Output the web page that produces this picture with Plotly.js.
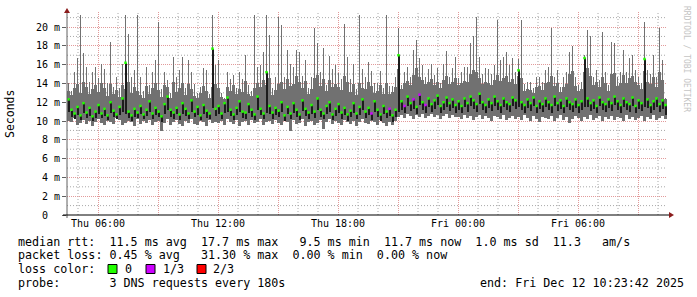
<!DOCTYPE html>
<html>
<head>
<meta charset="utf-8">
<script src="https://cdn.plot.ly/plotly-3.0.1.min.js"></script>
<style>html,body{margin:0;padding:0;background:#fff;}#chart{width:697px;height:297px;}</style>
</head>
<body>
<div id="chart"></div>
<script>
// ---- data (ms), one value per 9-minute step, starting Thu Dec 11 04:27 ----
const stepMinutes = 9;
const startUTC = Date.UTC(2025, 11, 11, 4, 27, 0);

// highest request in the step (smoke spikes)
const maxRtt = [
 14.0,13.2,15.2,16.7,21.3,17.2,15.8,14.2,15.2,15.8,
 14.6,16.1,15.5,14.0,18.4,13.6,14.7,13.5,16.1,21.3,
 19.3,14.7,15.4,21.3,14.7,13.2,15.8,13.8,15.2,16.5,
 20.5,13.4,15.2,14.4,13.0,16.8,14.7,15.4,16.8,13.5,
 16.5,15.2,13.9,13.0,13.6,15.6,15.4,12.9,21.3,16.0,
 16.5,13.0,12.5,15.2,14.5,14.9,13.5,15.2,14.5,17.0,
 13.8,13.2,21.3,15.8,16.0,17.3,21.3,19.2,13.5,14.7,
 21.1,20.2,14.7,17.6,16.1,15.8,17.6,17.3,14.8,16.5,
 13.5,14.7,19.9,18.3,15.2,17.8,13.8,16.9,15.5,16.0,
 15.1,14.5,20.3,16.8,14.5,16.1,13.4,21.3,15.5,14.7,
 16.3,15.3,14.0,14.0,15.3,13.5,21.3,13.7,13.7,14.7,
 19.9,13.8,15.2,15.8,14.7,17.6,18.6,16.7,16.0,14.7,
 15.5,16.1,14.9,15.6,14.0,16.1,17.4,14.7,15.6,16.8,
 14.6,15.2,15.8,15.8,18.3,19.1,21.1,16.8,15.0,15.6,
 15.5,15.0,16.0,20.8,16.5,16.8,17.3,16.0,16.7,15.2,
 16.6,20.8,13.9,14.1,14.1,13.5,14.7,14.7,14.1,15.4,
 15.8,19.9,14.7,15.4,13.6,14.7,15.2,17.3,18.0,14.7,
 13.8,14.1,17.0,19.7,19.0,14.7,15.4,14.4,19.5,15.2,
 13.8,18.4,18.3,14.7,15.2,17.6,15.2,16.7,17.0,15.4,
 14.7,14.0,20.5,15.4,15.0,17.0,14.7,19.9,16.5,12.5
];

// top of the continuous smoke body in the step
const bodyTop = [
 13.2,12.8,13.5,13.9,13.0,14.2,13.6,12.9,13.4,13.8,
 13.1,14.0,13.5,12.7,13.9,12.9,13.3,12.6,13.8,13.4,
 14.1,13.0,13.6,13.2,12.8,12.5,13.7,12.9,13.5,14.0,
 13.3,12.6,13.8,13.6,12.4,14.2,13.1,13.5,14.0,12.8,
 13.9,13.4,12.7,12.5,13.0,13.7,13.2,12.4,13.6,13.9,
 13.5,12.6,12.3,13.6,13.2,13.8,12.9,13.4,13.1,14.3,
 12.9,12.7,13.5,14.0,13.6,14.4,13.8,14.6,12.8,13.3,
 13.9,14.2,13.4,14.5,13.7,13.9,14.8,14.1,13.5,14.3,
 12.9,13.4,14.6,14.9,13.7,14.5,13.2,14.4,13.6,13.9,
 13.6,13.3,14.8,14.2,13.1,13.9,12.8,14.0,13.5,13.4,
 14.2,13.7,13.0,13.2,13.8,12.9,14.0,12.9,13.1,13.6,
 15.5,13.4,14.0,14.3,13.8,14.9,15.6,14.7,14.4,13.9,
 14.1,14.5,13.8,14.2,13.5,14.4,14.8,13.9,14.2,14.6,
 13.8,14.0,14.3,14.1,15.0,15.4,15.2,14.6,13.9,14.2,
 14.0,13.8,14.4,14.9,14.3,14.6,14.8,14.1,14.5,13.9,
 14.8,14.6,13.2,13.4,13.3,13.0,13.6,13.7,13.3,14.0,
 14.2,14.8,13.7,14.0,13.1,13.6,13.9,15.0,15.3,13.7,
 13.2,13.4,15.2,15.6,14.8,13.8,14.1,13.6,14.7,14.0,
 13.2,15.0,15.1,13.7,14.0,14.9,14.0,14.6,14.8,14.1,
 13.8,13.4,15.3,14.2,13.9,14.7,13.6,15.2,14.4,12.3
];

const minRtt = [
 10.0,9.9,10.3,9.6,9.8,10.1,9.7,10.0,9.5,9.9,
 10.2,9.8,9.6,10.0,9.9,9.7,10.3,10.1,9.6,9.8,
 10.0,9.9,9.5,10.2,9.7,10.0,9.8,10.1,9.6,9.9,
 10.0,8.9,9.8,10.2,9.6,9.9,10.1,9.7,9.5,10.0,
 9.8,10.2,9.7,9.6,10.0,9.9,9.5,10.1,9.8,9.9,
 9.8,10.0,9.6,10.2,9.9,9.7,10.1,9.5,9.9,10.0,
 9.6,10.1,9.8,9.9,10.2,9.6,9.9,10.0,9.7,10.1,
 9.8,9.6,10.0,9.9,8.9,10.1,9.7,9.8,10.2,9.5,
 9.9,10.0,9.6,9.8,10.1,9.1,9.9,10.2,9.7,10.0,
 9.8,9.6,10.1,9.9,9.7,10.0,9.5,9.9,10.2,9.8,
 9.7,10.0,9.9,9.6,10.1,9.8,9.5,9.9,9.6,10.0,
 10.4,10.6,10.3,10.7,10.5,10.2,10.6,10.4,10.7,10.3,
 10.5,10.8,10.4,10.6,10.2,10.5,10.7,10.3,10.6,10.4,
 10.4,10.2,10.6,10.3,10.5,10.1,10.4,10.6,10.2,10.5,
 10.3,10.0,10.5,10.4,10.2,10.6,10.1,10.3,10.5,10.2,
 10.4,10.1,10.6,10.3,10.0,10.5,10.2,9.9,10.4,10.3,
 10.2,10.5,10.0,10.3,10.6,10.1,10.4,9.8,10.2,10.5,
 10.3,10.0,10.4,10.2,10.6,10.1,10.3,10.5,10.0,10.4,
 10.2,10.5,10.1,10.4,10.3,10.0,10.6,10.2,10.4,10.1,
 10.3,10.5,10.0,10.4,10.2,10.6,10.1,10.3,10.5,10.2
];

const medianRtt = [
 12.3,11.2,10.8,11.5,10.6,11.9,10.9,11.4,10.5,11.0,
 11.7,10.8,11.3,10.6,12.0,11.1,10.7,11.5,12.4,16.2,
 11.0,10.6,11.3,10.9,11.6,10.7,11.2,12.1,10.8,11.4,
 11.0,10.5,11.8,12.6,11.2,10.9,11.4,10.7,11.9,11.3,
 10.8,12.2,11.0,11.5,10.6,11.7,11.1,10.8,17.7,11.3,
 11.6,10.8,11.9,12.5,11.2,10.7,11.4,12.1,11.0,10.9,
 11.8,11.2,10.7,12.6,11.3,10.8,15.2,11.6,10.9,11.4,
 11.1,12.0,10.6,11.5,10.8,11.9,11.2,10.7,12.2,11.3,
 10.9,11.7,11.0,12.4,11.2,10.8,11.6,12.0,10.7,11.3,
 11.8,10.9,11.4,10.7,11.1,11.9,10.8,11.5,12.3,11.0,
 11.4,10.8,12.1,11.2,10.7,11.6,11.0,11.3,10.6,11.2,
 17.0,12.1,11.6,12.6,11.9,12.3,11.5,12.8,12.0,11.7,
 12.4,11.8,12.2,12.7,11.6,12.0,12.5,11.9,12.3,11.7,
 12.1,11.6,12.4,11.9,12.6,12.2,11.8,12.9,12.0,11.7,
 12.3,11.9,12.6,12.1,11.7,12.4,12.0,11.8,12.5,12.2,
 15.4,12.0,11.7,12.3,11.9,12.5,11.6,12.1,11.8,12.4,
 12.0,11.7,12.6,11.9,12.2,11.6,12.4,12.0,11.8,12.3,
 11.7,12.1,16.7,12.4,11.9,12.2,11.6,12.5,12.0,11.8,
 12.3,11.9,12.6,12.1,11.7,12.4,12.0,11.8,12.5,11.6,
 12.2,11.9,16.6,12.3,11.7,12.1,12.4,11.8,12.2,11.7
];

// bottom of the dense (dark) smoke under the median
const denseLow = [
 11.0,10.4,10.2,10.6,10.1,10.9,10.3,10.5,10.0,10.3,
 10.7,10.3,10.5,10.1,10.9,10.4,10.2,10.6,11.0,10.8,
 10.3,10.0,10.4,10.3,10.7,10.2,10.5,11.0,10.2,10.6,
 10.4,9.9,10.8,11.2,10.4,10.2,10.7,10.1,10.8,10.5,
 10.2,11.0,10.4,10.6,10.1,10.8,10.3,10.2,11.4,10.5,
 10.8,10.2,10.9,11.0,10.5,10.1,10.6,11.0,10.3,10.2,
 10.9,10.4,10.1,11.2,10.6,10.2,10.9,10.7,10.2,10.6,
 10.4,11.0,10.0,10.7,10.2,10.9,10.4,10.1,11.1,10.5,
 10.2,10.8,10.3,11.2,10.4,10.2,10.7,11.0,10.1,10.5,
 10.9,10.2,10.6,10.0,10.4,10.9,10.2,10.6,11.2,10.3,
 10.6,10.1,11.0,10.4,10.0,10.7,10.3,10.5,9.9,10.4,
 11.0,11.2,10.9,11.6,11.1,11.3,10.8,11.7,11.2,10.9,
 11.5,11.0,11.3,11.7,10.9,11.2,11.5,11.1,11.4,10.9,
 11.2,10.9,11.5,11.0,11.6,11.3,11.0,11.8,11.2,10.9,
 11.4,11.1,11.6,11.2,10.9,11.5,11.2,11.0,11.6,11.3,
 11.5,11.2,10.9,11.4,11.1,11.6,10.9,11.3,11.0,11.5,
 11.2,10.9,11.6,11.1,11.3,10.9,11.5,11.2,11.0,11.4,
 10.9,11.2,11.5,11.5,11.1,11.3,10.9,11.6,11.2,11.0,
 11.4,11.1,11.7,11.2,10.9,11.5,11.2,11.0,11.6,10.9,
 11.3,11.1,11.5,11.4,10.9,11.2,11.5,11.0,11.3,10.6
];

// steps where 1 of 3 requests was lost
const lossOneThirdSteps = [101, 107, 112, 115, 117, 119];

const yTickVals = [0, 2, 4, 6, 8, 10, 12, 14, 16, 18, 20];
const yTickText = ['0  ', '2 m', '4 m', '6 m', '8 m', '10 m', '12 m', '14 m', '16 m', '18 m', '20 m'];
const yMinorVals = [1, 3, 5, 7, 9, 11, 13, 15, 17, 19, 21];
const xTickLabels = ['Thu 06:00', '', 'Thu 12:00', '', 'Thu 18:00', '', 'Fri 00:00', '', 'Fri 06:00', ''];
const xMinorHours = [5, 7, 8, 10, 11, 13, 14, 16, 17, 19, 20, 22, 23, 25, 26, 28, 29, 31, 32, 34];

const lossColors = { '0': '#22ff00', '1/3': '#cc00ff', '2/3': '#ff0000' };

const legendLines = [
  'median rtt:  11.5 ms avg  17.7 ms max   9.5 ms min  11.7 ms now  1.0 ms sd  11.3   am/s',
  'packet loss: 0.45 % avg   31.30 % max  0.00 % min  0.00 % now',
  'loss color:',
  'probe:       3 DNS requests every 180s'
];
const endText = 'end: Fri Dec 12 10:23:42 2025';

// ---- build ----
const stepMs = stepMinutes * 60000;
const n = maxRtt.length;
const t = maxRtt.map((_, i) => startUTC + (i + 0.5) * stepMs);
const nb = s => s.replace(/ /g, '\u00a0');

const L = 67, R = 30, T = 12, B = 82, W = 697, H = 297;
const PW = W - L - R, PH = H - T - B;
const px = x => (x - L) / PW;
const py = y => (H - B - y) / PH;

const smokeGray = '#717171';
const body = {
  type: 'bar', x: t, base: minRtt, y: bodyTop.map((v, i) => Math.min(v, maxRtt[i]) - minRtt[i]),
  width: stepMs, marker: { color: smokeGray, line: { width: 0 } }, hoverinfo: 'skip'
};
const spikes = {
  type: 'bar', x: t, base: minRtt, y: maxRtt.map((v, i) => v - minRtt[i]),
  width: stepMs / 3, marker: { color: smokeGray, line: { width: 0 } }, hoverinfo: 'skip'
};
const dense = {
  type: 'bar', x: t, base: denseLow, y: medianRtt.map((v, i) => Math.max(0, v - denseLow[i])),
  width: stepMs * 0.67, marker: { color: '#1c1c1c', line: { width: 0 } }, hoverinfo: 'skip'
};
const medColors = medianRtt.map((_, i) => lossOneThirdSteps.includes(i) ? lossColors['1/3'] : lossColors['0']);
const median = {
  type: 'scatter', mode: 'markers', x: t, y: medianRtt,
  marker: { symbol: 'square', size: 2.5, color: medColors, line: { width: 0 } }, hoverinfo: 'skip'
};

const xTickVals = xTickLabels.map((_, k) => Date.UTC(2025, 11, 11, 6 + 3 * k, 0, 0));
const xMinorVals = xMinorHours.map(h => Date.UTC(2025, 11, 11, h, 0, 0));

const redGrid = '#e29a9a', grayGrid = '#a8a8a8';
const mono = 'DejaVu Sans Mono';
const annotations = [];
const shapes = [];

// minor grid (hourly / odd ms) beneath the data
xMinorVals.forEach(v => shapes.push({ type: 'line', layer: 'below', xref: 'x', yref: 'paper', x0: v, x1: v, y0: 0, y1: 1,
  line: { color: grayGrid, width: 1, dash: '1px,2px' } }));
yMinorVals.forEach(v => shapes.push({ type: 'line', layer: 'below', xref: 'paper', yref: 'y', x0: 0, x1: 1, y0: v, y1: v,
  line: { color: grayGrid, width: 1, dash: '1px,2px' } }));

const rowY = [241.5, 255.3, 269.2, 283];
legendLines.forEach((s, k) => annotations.push({
  xref: 'paper', yref: 'paper', x: px(16), y: py(rowY[k]), xanchor: 'left', yanchor: 'middle',
  text: nb(s), showarrow: false, font: { family: mono, size: 11.7, color: '#000' }
}));
annotations.push({ xref: 'paper', yref: 'paper', x: px(478), y: py(rowY[3]), xanchor: 'left', yanchor: 'middle',
  text: nb(endText), showarrow: false, font: { family: mono, size: 11.7, color: '#000' } });
const lossKeys = ['0', '1/3', '2/3'];
const boxX = [108, 146, 197];
const labX = [122.5, 160.5, 211];
lossKeys.forEach((k, j) => {
  shapes.push({ type: 'rect', xref: 'paper', yref: 'paper', x0: px(boxX[j]), x1: px(boxX[j] + 9), y0: py(273.5), y1: py(264.5),
    fillcolor: lossColors[k], line: { color: '#000', width: 1 } });
  annotations.push({ xref: 'paper', yref: 'paper', x: px(labX[j]), y: py(rowY[2]), xanchor: 'left', yanchor: 'middle',
    text: k, showarrow: false, font: { family: mono, size: 11.7, color: '#000' } });
});
annotations.push({ xref: 'paper', yref: 'paper', x: px(10), y: py(114), xanchor: 'center', yanchor: 'middle',
  text: 'Seconds', textangle: -90, showarrow: false, font: { family: mono, size: 11.5, color: '#000' } });
annotations.push({ xref: 'paper', yref: 'paper', x: px(687), y: py(59), xanchor: 'center', yanchor: 'middle',
  text: nb('RRDTOOL / TOBI OETIKER'), textangle: 90, showarrow: false, font: { family: mono, size: 8, color: '#c4c4c4' } });

// axes lines and arrows
shapes.push({ type: 'line', xref: 'paper', yref: 'paper', x0: px(67), x1: px(67), y0: py(218), y1: py(12), line: { color: '#606060', width: 1 } });
shapes.push({ type: 'line', xref: 'paper', yref: 'paper', x0: px(63), x1: px(670), y0: py(215), y1: py(215), line: { color: '#000', width: 1 } });
const p = (x, y) => px(x) + ',' + py(y);
shapes.push({ type: 'path', xref: 'paper', yref: 'paper', path: 'M' + p(64, 13) + 'L' + p(70, 13) + 'L' + p(67, 8) + 'Z',
  fillcolor: '#8b1c1c', line: { width: 0 } });
shapes.push({ type: 'path', xref: 'paper', yref: 'paper', path: 'M' + p(669, 212) + 'L' + p(669, 218) + 'L' + p(674, 215) + 'Z',
  fillcolor: '#8b1c1c', line: { width: 0 } });

const layout = {
  width: W, height: H, margin: { l: L, r: R, t: T, b: B, pad: 0 },
  paper_bgcolor: '#ffffff', plot_bgcolor: '#ffffff', showlegend: false,
  barmode: 'overlay', bargap: 0,
  font: { family: mono, size: 10, color: '#000' },
  xaxis: {
    type: 'date', range: [startUTC, startUTC + n * stepMs], fixedrange: true,
    tickmode: 'array', tickvals: xTickVals, ticktext: xTickLabels,
    showgrid: true, gridcolor: redGrid, griddash: '1px,1px', gridwidth: 1,
    ticks: '', ticklabelstandoff: 1, showline: false, zeroline: false,
    tickfont: { family: mono, size: 10, color: '#000' }
  },
  yaxis: {
    range: [0, 21.6], fixedrange: true,
    tickmode: 'array', tickvals: yTickVals, ticktext: yTickText.map(nb),
    showgrid: true, gridcolor: redGrid, griddash: '1px,1px', gridwidth: 1,
    ticks: 'outside', ticklen: 4, tickcolor: '#606060', tickwidth: 1,
    showline: false, zeroline: false, tickfont: { family: mono, size: 10, color: '#000' }
  },
  annotations: annotations, shapes: shapes
};

Plotly.newPlot('chart', [body, spikes, dense, median], layout, { staticPlot: true, displayModeBar: false });
</script>
</body>
</html>
